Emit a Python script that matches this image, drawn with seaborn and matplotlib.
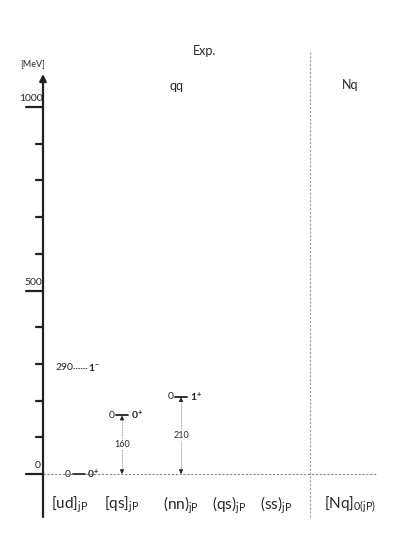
import matplotlib
matplotlib.use("Agg")
import matplotlib.pyplot as plt
import seaborn as sns

# Data (MeV)
categories = ['[ud]', '[qs]', '(nn)', '(qs)', '(ss)', '[Nq]']
subscripts = ['jP', 'jP', 'jP', 'jP', 'jP', '0(jP)']
cat_x = [70, 122, 181, 229, 276, 350]

level_cat = ['[ud]', '[ud]', '[qs]', '(nn)']
level_mev = [0, 290, 160, 210]
level_jp = ['0^{+}', '1^{-}', '0^{+}', '1^{+}']
level_left = ['0', '290', '0', '0']

gap_cat = ['[qs]', '(nn)']
gap_mev = [160, 210]

major_ticks = [0, 500, 1000]
minor_ticks = [100, 200, 300, 400, 600, 700, 800, 900]

sns.set_theme(style="white")
plt.rcParams['font.family'] = ['Lato', 'DejaVu Sans']
plt.rcParams['mathtext.fontset'] = 'custom'
plt.rcParams['mathtext.rm'] = 'Lato'
plt.rcParams['mathtext.bf'] = 'Lato:bold'

fig = plt.figure(figsize=(3.93, 5.56), dpi=100)
ax = fig.add_axes([0, 0, 1, 1])
ax.set_xlim(0, 393)
ax.set_ylim(-223.4, 1291.6)
ax.axis('off')

px = 1 / 0.367  # MeV per pixel
xpos = dict(zip(categories, cat_x))

# energy axis with arrow
ax.annotate('', xy=(43, 1090), xytext=(43, -117),
            arrowprops=dict(arrowstyle='-|>', color='#222222', lw=1.6,
                            mutation_scale=10, shrinkA=0, shrinkB=0))
for t in major_ticks:
    ax.plot([26, 43], [t, t], color='#222222', lw=1.6)
for t in minor_ticks:
    ax.plot([36, 43], [t, t], color='#222222', lw=1.6)
ax.text(31, 1000 + 4 * px, '1000', ha='center', va='bottom', fontsize=7.5)
ax.text(33, 500 + 4 * px, '500', ha='center', va='bottom', fontsize=7.5)
ax.text(38, 0 + 4 * px, '0', ha='center', va='bottom', fontsize=7.5)
ax.text(33, (474 - 64) * px, '[MeV]', ha='center', va='center', fontsize=6.5)

# zero line and divider
ax.plot([43, 376], [0, 0], color='#888888', lw=0.8, ls=(0, (2, 1.5)))
ax.plot([310, 310], [-117, (474 - 50) * px], color='#999999', lw=0.8, ls=(0, (2, 1.5)))

# headers
ax.text(205, (474 - 51) * px, 'Exp.', ha='center', va='center', fontsize=9)
ax.text(176, (474 - 86) * px, 'qq', ha='center', va='center', fontsize=9)
ax.text(350, (474 - 85) * px, 'Nq', ha='center', va='center', fontsize=9)

# category labels
for c, s, x in zip(categories, subscripts, cat_x):
    ax.text(x, -31 * px, c + r'$_{\mathrm{' + s + '}}$', ha='center', va='center',
            fontsize=11)

# levels
for c, m, jp, lab in zip(level_cat, level_mev, level_jp, level_left):
    x = xpos[c]
    if c == '[ud]' and m == 0:
        ax.text(68, m, lab, ha='center', va='center', fontsize=7.5)
        ax.plot([73, 85], [m, m], color='#222222', lw=1.2)
        ax.text(87, m, r'$\mathbf{' + jp + '}$', ha='left', va='center', fontsize=7.5)
    elif c == '[ud]':
        ax.text(64, m, lab, ha='center', va='center', fontsize=7.5)
        ax.plot([73, 87], [m, m], color='#444444', lw=0.7, ls=(0, (1.5, 1)))
        ax.text(88, m, r'$\mathbf{' + jp + '}$', ha='left', va='center', fontsize=7.5)
    else:
        ax.plot([x - 6, x + 6], [m, m], color='#222222', lw=1.3)
        ax.text(x - 10, m, lab, ha='center', va='center', fontsize=7.5)
        ax.text(x + 9, m, r'$\mathbf{' + jp + '}$', ha='left', va='center', fontsize=7.5)

# gaps (dotted arrows)
for c, g in zip(gap_cat, gap_mev):
    x = xpos[c]
    ax.plot([x, x], [6, g - 3], color='#777777', lw=0.6, ls=(0, (1, 1)))
    ax.annotate('', xy=(x, g - 1), xytext=(x, g - 10),
                arrowprops=dict(arrowstyle='-|>', color='#222222', lw=0.6,
                                mutation_scale=6, shrinkA=0, shrinkB=0))
    ax.annotate('', xy=(x, 0), xytext=(x, 10),
                arrowprops=dict(arrowstyle='-|>', color='#222222', lw=0.6,
                                mutation_scale=6, shrinkA=0, shrinkB=0))
    ax.text(x, g * 0.5, str(g), ha='center', va='center', fontsize=6.5,
            bbox=dict(fc='white', ec='none', pad=0.5))

fig.savefig('out.png', dpi=100)
